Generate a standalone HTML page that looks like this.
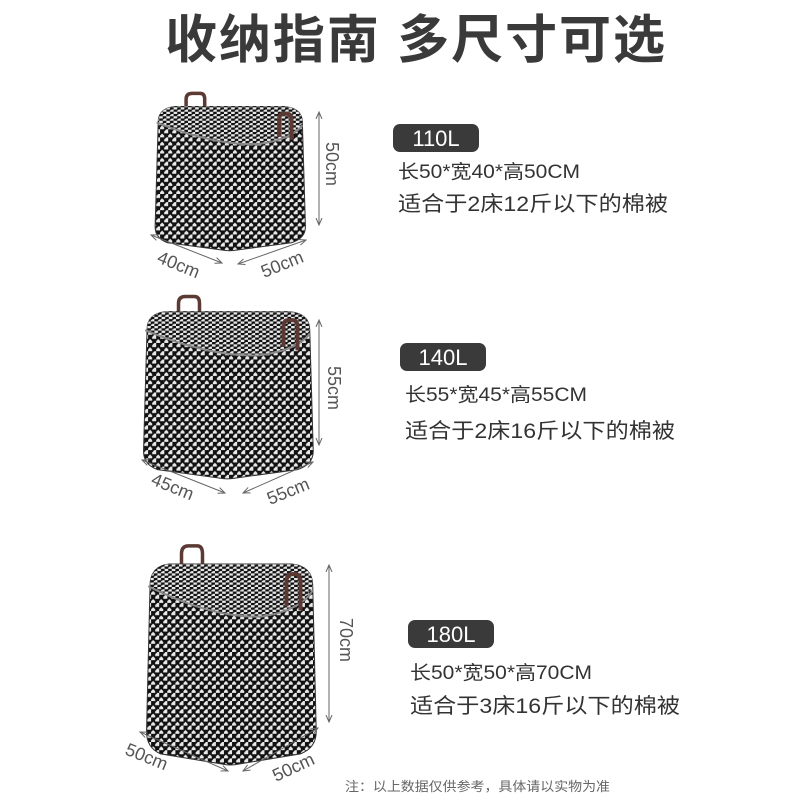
<!DOCTYPE html>
<html><head><meta charset="utf-8"><style>
html,body{margin:0;padding:0;background:#fff;}
svg{display:block;}
text{font-family:"Liberation Sans","Noto Sans CJK SC",sans-serif;}
</style></head><body>
<svg width="800" height="800" viewBox="0 0 800 800" xmlns="http://www.w3.org/2000/svg">
<defs>
<pattern id="a1" width="9" height="9" patternUnits="userSpaceOnUse" patternTransform="scale(0.58,0.62)">
<rect width="9" height="9" fill="#e8e8e8"/>
<path d="M0,0H4.5V4.5H0Z M4.5,4.5H9V9H4.5Z M4.5,0L7,0L4.5,2.5Z M0,4.5L2.5,4.5L0,7Z M2,4.5L4.5,4.5L4.5,7Z" fill="#111"/>
</pattern>
<pattern id="b1" width="8" height="5" patternUnits="userSpaceOnUse" patternTransform="scale(0.58,0.62)">
<rect width="8" height="5" fill="#e8e8e8"/>
<path d="M0,0H4V2.5H0Z M4,2.5H8V5H4Z M4,0L6,0L4,1.3Z" fill="#111"/>
</pattern>
<pattern id="a2" width="9" height="9" patternUnits="userSpaceOnUse" patternTransform="scale(0.514,0.545)">
<rect width="9" height="9" fill="#e8e8e8"/>
<path d="M0,0H4.5V4.5H0Z M4.5,4.5H9V9H4.5Z M4.5,0L7,0L4.5,2.5Z M0,4.5L2.5,4.5L0,7Z M2,4.5L4.5,4.5L4.5,7Z" fill="#111"/>
</pattern>
<pattern id="b2" width="8" height="5" patternUnits="userSpaceOnUse" patternTransform="scale(0.514,0.545)">
<rect width="8" height="5" fill="#e8e8e8"/>
<path d="M0,0H4V2.5H0Z M4,2.5H8V5H4Z M4,0L6,0L4,1.3Z" fill="#111"/>
</pattern>
<pattern id="a3" width="9" height="9" patternUnits="userSpaceOnUse" patternTransform="scale(0.514,0.45)">
<rect width="9" height="9" fill="#e8e8e8"/>
<path d="M0,0H4.5V4.5H0Z M4.5,4.5H9V9H4.5Z M4.5,0L7,0L4.5,2.5Z M0,4.5L2.5,4.5L0,7Z M2,4.5L4.5,4.5L4.5,7Z" fill="#111"/>
</pattern>
<pattern id="b3" width="8" height="5" patternUnits="userSpaceOnUse" patternTransform="scale(0.514,0.45)">
<rect width="8" height="5" fill="#e8e8e8"/>
<path d="M0,0H4V2.5H0Z M4,2.5H8V5H4Z M4,0L6,0L4,1.3Z" fill="#111"/>
</pattern>
<marker id="ar" markerWidth="8" markerHeight="8" refX="7" refY="4" orient="auto" markerUnits="userSpaceOnUse">
<path d="M0,1L7,4L0,7" fill="none" stroke="#666" stroke-width="1"/>
</marker>
<marker id="al" markerWidth="8" markerHeight="8" refX="1" refY="4" orient="auto" markerUnits="userSpaceOnUse">
<path d="M8,1L1,4L8,7" fill="none" stroke="#666" stroke-width="1"/>
</marker>
</defs>

<text x="415" y="58" font-size="52" font-weight="bold" fill="#3a3a3a" text-anchor="middle" textLength="500" lengthAdjust="spacing">收纳指南 多尺寸可选</text>

<!-- Box 1 -->
<g transform="translate(152,105) scale(1.55,1.45)">
<path d="M22,8 V-4 Q22,-8 26,-8 H31 Q34,-8 34,-4 V6" fill="none" stroke="#5b3a34" stroke-width="3.5" vector-effect="non-scaling-stroke"/>
<path d="M4,12 Q4,2 15,1 L85,1 Q97,2 97,12 L99,84 Q99,92 90,95 L55,100 Q50,101 45,100 L10,95 Q2,92 2,84 Z" fill="url(#a1)" stroke="#333" stroke-width="1" vector-effect="non-scaling-stroke"/>
<path d="M4,12 Q4,2 15,1 L85,1 Q97,2 97,12 Q90,24 68,27 Q40,28 4,12Z" fill="url(#b1)"/>
<path d="M3,12 Q40,28 68,27 Q90,24 97,14" fill="none" stroke="#888" stroke-width="2" vector-effect="non-scaling-stroke"/>
<path d="M82,22 V10 Q82,6 85,6 H87 Q90,6 90,10 V24" fill="none" stroke="#5b3a34" stroke-width="4" vector-effect="non-scaling-stroke"/>
</g>
<line x1="319" y1="112" x2="319" y2="225" stroke="#666" stroke-width="1" marker-start="url(#al)" marker-end="url(#ar)"/>
<text transform="translate(326,142) rotate(90)" font-size="18" fill="#555">50cm</text>
<line x1="151" y1="235" x2="222" y2="263" stroke="#666" marker-start="url(#al)" marker-end="url(#ar)"/>
<line x1="238" y1="264" x2="306" y2="240" stroke="#666" marker-start="url(#al)" marker-end="url(#ar)"/>
<text transform="translate(156,262) rotate(22)" font-size="18" fill="#555">40cm</text>
<text transform="translate(264,278) rotate(-22)" font-size="18" fill="#555">50cm</text>

<rect x="393" y="124" width="86" height="28" rx="7" fill="#3a3a3a"/>
<text x="436" y="146" font-size="22" fill="#fff" text-anchor="middle">110L</text>
<text x="398" y="178" font-size="19" fill="#333" textLength="182" lengthAdjust="spacingAndGlyphs">长50*宽40*高50CM</text>
<text x="398" y="211" font-size="21" fill="#333" textLength="270" lengthAdjust="spacingAndGlyphs">适合于2床12斤以下的棉被</text>

<!-- Box 2 -->
<g transform="translate(140,310) scale(1.75,1.68)">
<path d="M22,8 V-4 Q22,-8 26,-8 H31 Q34,-8 34,-4 V6" fill="none" stroke="#5b3a34" stroke-width="3.5" vector-effect="non-scaling-stroke"/>
<path d="M4,12 Q4,2 15,1 L85,1 Q97,2 97,12 L99,84 Q99,92 90,95 L55,100 Q50,101 45,100 L10,95 Q2,92 2,84 Z" fill="url(#a2)" stroke="#333" stroke-width="1" vector-effect="non-scaling-stroke"/>
<path d="M4,12 Q4,2 15,1 L85,1 Q97,2 97,12 Q90,24 68,27 Q40,28 4,12Z" fill="url(#b2)"/>
<path d="M3,12 Q40,28 68,27 Q90,24 97,14" fill="none" stroke="#888" stroke-width="2" vector-effect="non-scaling-stroke"/>
<path d="M82,22 V10 Q82,6 85,6 H87 Q90,6 90,10 V24" fill="none" stroke="#5b3a34" stroke-width="4" vector-effect="non-scaling-stroke"/>
</g>
<line x1="319" y1="320" x2="319" y2="445" stroke="#666" marker-start="url(#al)" marker-end="url(#ar)"/>
<text transform="translate(328,366) rotate(90)" font-size="18" fill="#555">55cm</text>
<line x1="142" y1="460" x2="225" y2="493" stroke="#666" marker-start="url(#al)" marker-end="url(#ar)"/>
<line x1="243" y1="493" x2="313" y2="462" stroke="#666" marker-start="url(#al)" marker-end="url(#ar)"/>
<text transform="translate(150,484) rotate(22)" font-size="18" fill="#555">45cm</text>
<text transform="translate(270,505) rotate(-22)" font-size="18" fill="#555">55cm</text>

<rect x="400" y="343" width="86" height="28" rx="7" fill="#3a3a3a"/>
<text x="443" y="365" font-size="22" fill="#fff" text-anchor="middle">140L</text>
<text x="405" y="401" font-size="19" fill="#333" textLength="182" lengthAdjust="spacingAndGlyphs">长55*宽45*高55CM</text>
<text x="405" y="438" font-size="21" fill="#333" textLength="270" lengthAdjust="spacingAndGlyphs">适合于2床16斤以下的棉被</text>

<!-- Box 3 -->
<g transform="translate(143,562) scale(1.75,2.02)">
<path d="M22,8 V-4 Q22,-8 26,-8 H31 Q34,-8 34,-4 V6" fill="none" stroke="#5b3a34" stroke-width="3.5" vector-effect="non-scaling-stroke"/>
<path d="M4,12 Q4,2 15,1 L85,1 Q97,2 97,12 L99,84 Q99,92 90,95 L55,100 Q50,101 45,100 L10,95 Q2,92 2,84 Z" fill="url(#a3)" stroke="#333" stroke-width="1" vector-effect="non-scaling-stroke"/>
<path d="M4,12 Q4,2 15,1 L85,1 Q97,2 97,12 Q90,24 68,27 Q40,28 4,12Z" fill="url(#b3)"/>
<path d="M3,12 Q40,28 68,27 Q90,24 97,14" fill="none" stroke="#888" stroke-width="2" vector-effect="non-scaling-stroke"/>
<path d="M82,22 V10 Q82,6 85,6 H87 Q90,6 90,10 V24" fill="none" stroke="#5b3a34" stroke-width="4" vector-effect="non-scaling-stroke"/>
</g>
<line x1="329" y1="565" x2="329" y2="722" stroke="#666" marker-start="url(#al)" marker-end="url(#ar)"/>
<text transform="translate(340,618) rotate(90)" font-size="18" fill="#555">70cm</text>
<line x1="140" y1="732" x2="228" y2="771" stroke="#666" marker-start="url(#al)" marker-end="url(#ar)"/>
<line x1="243" y1="771" x2="318" y2="728" stroke="#666" marker-start="url(#al)" marker-end="url(#ar)"/>
<text transform="translate(124,754) rotate(22)" font-size="18" fill="#555">50cm</text>
<text transform="translate(276,782) rotate(-25)" font-size="18" fill="#555">50cm</text>

<rect x="408" y="620" width="86" height="28" rx="7" fill="#3a3a3a"/>
<text x="451" y="642" font-size="22" fill="#fff" text-anchor="middle">180L</text>
<text x="410" y="679" font-size="19" fill="#333" textLength="182" lengthAdjust="spacingAndGlyphs">长50*宽50*高70CM</text>
<text x="410" y="713" font-size="21" fill="#333" textLength="270" lengthAdjust="spacingAndGlyphs">适合于3床16斤以下的棉被</text>

<text x="345" y="791" font-size="13" fill="#666" textLength="265" lengthAdjust="spacingAndGlyphs">注：以上数据仅供参考，具体请以实物为准</text>
</svg>
</body></html>
